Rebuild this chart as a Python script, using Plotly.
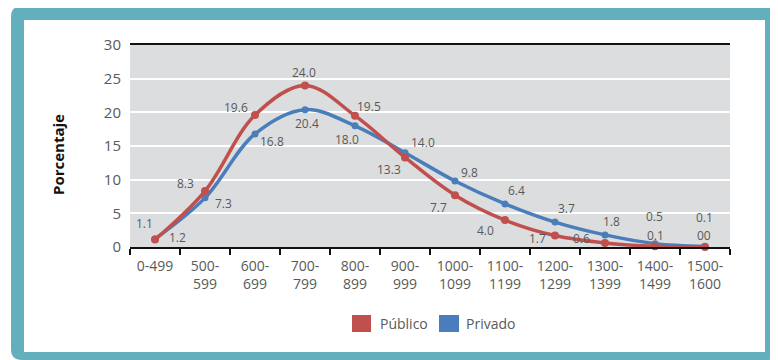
import plotly.graph_objects as go

# ---- data ----
categories = ["0-499", "500-599", "600-699", "700-799", "800-899", "900-999",
              "1000-1099", "1100-1199", "1200-1299", "1300-1399", "1400-1499", "1500-1600"]
tick_labels = ["0-499", "500-<br>599", "600-<br>699", "700-<br>799", "800-<br>899", "900-<br>999",
               "1000-<br>1099", "1100-<br>1199", "1200-<br>1299", "1300-<br>1399",
               "1400-<br>1499", "1500-<br>1600"]
publico = [1.1, 8.3, 19.6, 24.0, 19.5, 13.3, 7.7, 4.0, 1.7, 0.6, 0.1, 0.0]
privado = [1.2, 7.3, 16.8, 20.4, 18.0, 14.0, 9.8, 6.4, 3.7, 1.8, 0.5, 0.1]
publico_text = ["1.1", "8.3", "19.6", "24.0", "19.5", "13.3", "7.7", "4.0", "1.7", "0.6", "0.1", "00"]
privado_text = ["1.2", "7.3", "16.8", "20.4", "18.0", "14.0", "9.8", "6.4", "3.7", "1.8", "0.5", "0.1"]

# label offsets (pixels: dx right, dy down)
publico_off = [(-11, -16), (-20, -8), (-19, -8), (-1, -13), (14, -9), (-16, 12),
               (-17, 12), (-20, 10), (-18, 3), (-24, -4), (0, -11), (-1, -12)]
privado_off = [(22, -1), (18, 6), (17, 8), (2, 14), (-8, 14), (18, -10),
               (14, -9), (11, -13), (11, -14), (6, -13), (-1, -27), (-1, -29)]

RED = "#c0504d"
BLUE = "#4a7ebb"
TEAL = "#63afbd"
GRAY_TXT = "#595959"
FONT = "Open Sans"

# page offset (body margin) and window size
OFF = 8
WIN_W, WIN_H = 778, 360
W, H = WIN_W - OFF, WIN_H - OFF
# plot area in window pixels
PL, PR, PT, PB = 130, 730, 45, 247


def px(x):
    return (x - PL) / (PR - PL)


def py(y):
    return (PB - y) / (PB - PT)


fig = go.Figure()
fig.add_trace(go.Scatter(x=categories, y=privado, mode="lines+markers",
                         line=dict(color=BLUE, width=3.5, shape="spline", smoothing=1.0),
                         marker=dict(color=BLUE, size=7), showlegend=False, cliponaxis=False))
fig.add_trace(go.Scatter(x=categories, y=publico, mode="lines+markers",
                         line=dict(color=RED, width=3.5, shape="spline", smoothing=1.0),
                         marker=dict(color=RED, size=8), showlegend=False, cliponaxis=False))

annotations = []
for cat, v, t, (dx, dy) in zip(categories, publico, publico_text, publico_off):
    annotations.append(dict(x=cat, y=v, xref="x", yref="y", text=t, showarrow=False, borderpad=0,
                            xanchor="center", yanchor="middle",
                            xshift=dx, yshift=-dy, font=dict(family=FONT, size=12, color=GRAY_TXT)))
for cat, v, t, (dx, dy) in zip(categories, privado, privado_text, privado_off):
    annotations.append(dict(x=cat, y=v, xref="x", yref="y", text=t, showarrow=False, borderpad=0,
                            xanchor="center", yanchor="middle",
                            xshift=dx, yshift=-dy, font=dict(family=FONT, size=12, color=GRAY_TXT)))

# y-axis title
annotations.append(dict(x=px(58), y=py(155), xref="paper", yref="paper", text="<b>Porcentaje</b>",
                        xanchor="center", yanchor="middle",
                        textangle=-90, showarrow=False, font=dict(family=FONT, size=15, color="#111111")))
# legend texts
annotations.append(dict(x=px(378), y=py(323.5), xref="paper", yref="paper", text="Público",
                        xanchor="left", yanchor="middle", showarrow=False,
                        font=dict(family=FONT, size=14, color=GRAY_TXT)))
annotations.append(dict(x=px(464), y=py(323.5), xref="paper", yref="paper", text="Privado",
                        xanchor="left", yanchor="middle", showarrow=False,
                        font=dict(family=FONT, size=14, color=GRAY_TXT)))


def rounded_path(x0, y0, x1, y1, r):
    pts = [
        f"M {px(x0 + r)},{py(y0)}",
        f"L {px(x1 - r)},{py(y0)}",
        f"Q {px(x1)},{py(y0)} {px(x1)},{py(y0 + r)}",
        f"L {px(x1)},{py(y1 - r)}",
        f"Q {px(x1)},{py(y1)} {px(x1 - r)},{py(y1)}",
        f"L {px(x0 + r)},{py(y1)}",
        f"Q {px(x0)},{py(y1)} {px(x0)},{py(y1 - r)}",
        f"L {px(x0)},{py(y0 + r)}",
        f"Q {px(x0)},{py(y0)} {px(x0 + r)},{py(y0)}",
        "Z",
    ]
    return " ".join(pts)


shapes = [
    dict(type="path", xref="paper", yref="paper", path=rounded_path(11, 6, 778, 360, 11),
         fillcolor=TEAL, line=dict(width=0), layer="below"),
    dict(type="rect", xref="paper", yref="paper", x0=px(24), x1=px(765), y0=py(352), y1=py(20),
         fillcolor="white", line=dict(width=0), layer="below"),
    dict(type="rect", xref="paper", yref="paper", x0=0, x1=1, y0=0, y1=1,
         fillcolor="#dcdddf", line=dict(width=0), layer="below"),
    # legend swatches
    dict(type="rect", xref="paper", yref="paper", x0=px(352), x1=px(371), y0=py(332), y1=py(315),
         fillcolor=RED, line=dict(width=0)),
    dict(type="rect", xref="paper", yref="paper", x0=px(439), x1=px(459), y0=py(332), y1=py(315),
         fillcolor=BLUE, line=dict(width=0)),
]

fig.update_layout(
    width=W, height=H,
    margin=dict(l=PL - OFF, r=WIN_W - PR, t=PT - OFF, b=WIN_H - PB),
    paper_bgcolor="white",
    plot_bgcolor="rgba(0,0,0,0)",
    showlegend=False,
    annotations=annotations,
    shapes=shapes,
    font=dict(family=FONT, color=GRAY_TXT),
)
fig.update_xaxes(type="category", tickvals=categories, ticktext=tick_labels,
                 tickson="boundaries", ticks="outside", ticklen=6, tickwidth=1.5, tickcolor="#111111",
                 showline=True, linecolor="#111111", linewidth=2, mirror=True,
                 showgrid=False, tickfont=dict(family=FONT, size=14, color=GRAY_TXT),
                 ticklabelstandoff=5, range=[-0.5, 11.5])
fig.update_yaxes(range=[0, 30], dtick=5, showgrid=True, gridcolor="white", gridwidth=1.5,
                 zeroline=False, showline=False, ticks="", ticklabelstandoff=8,
                 tickfont=dict(family=FONT, size=15, color=GRAY_TXT))

fig.write_html("out.html")
